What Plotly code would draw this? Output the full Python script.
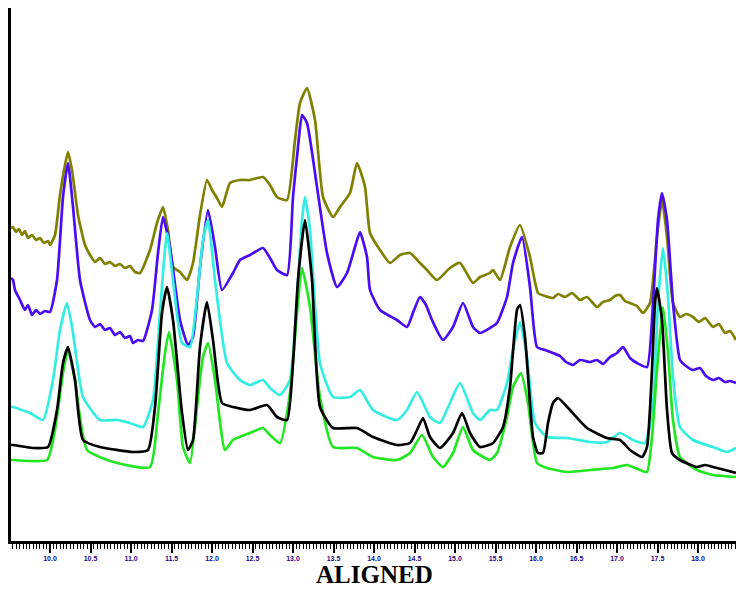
import plotly.graph_objects as go

# Retention position (chart units) and detector signal for each aligned trace
olive_x = [11, 13, 16, 19, 22, 25, 28, 32, 36, 40, 44, 48, 50, 55, 60, 65, 68, 72, 78, 85, 90, 95, 100, 105, 110, 115, 120, 125, 130, 135, 140, 150, 157, 163, 168, 173, 180, 187, 193, 200, 207, 212, 217, 222, 230, 240, 250, 263, 270, 277, 287, 295, 300, 307, 315, 323, 333, 340, 350, 357, 365, 370, 380, 390, 400, 410, 420, 427, 437, 450, 460, 473, 480, 490, 493, 500, 510, 520, 530, 538, 545, 553, 558, 565, 572, 580, 587, 597, 603, 610, 615, 620, 625, 630, 637, 643, 650, 657, 662, 667, 673, 680, 686, 693, 699, 705, 713, 719, 725, 730, 736]
olive_y = [313, 314, 309, 312, 306, 310, 303, 306, 301, 303, 298, 300, 296, 306, 346, 376, 389, 371, 326, 296, 286, 279, 283, 277, 279, 275, 277, 273, 275, 269, 268, 291, 318, 334, 311, 274, 269, 261, 278, 326, 361, 351, 343, 334, 358, 361, 361, 364, 356, 344, 341, 401, 438, 453, 421, 344, 324, 334, 348, 378, 354, 308, 291, 278, 286, 288, 278, 271, 261, 273, 278, 258, 264, 268, 271, 261, 294, 316, 284, 248, 245, 243, 247, 244, 248, 241, 244, 234, 239, 241, 245, 246, 240, 238, 235, 228, 238, 304, 341, 304, 238, 224, 227, 224, 219, 223, 214, 217, 208, 210, 201]

blue_x = [11, 13, 15, 20, 25, 28, 32, 36, 40, 45, 50, 57, 63, 68, 73, 80, 90, 95, 100, 105, 110, 115, 120, 125, 130, 133, 138, 143, 152, 158, 163, 170, 180, 188, 193, 200, 208, 215, 222, 233, 240, 250, 263, 270, 277, 287, 293, 298, 302, 307, 317, 327, 337, 347, 355, 360, 367, 370, 380, 397, 407, 414, 420, 426, 432, 443, 453, 463, 473, 480, 490, 497, 507, 513, 522, 530, 537, 545, 553, 560, 566, 573, 580, 590, 597, 603, 610, 617, 623, 630, 637, 647, 653, 658, 662, 667, 673, 680, 686, 693, 700, 706, 713, 719, 725, 730, 736]
blue_y = [263, 261, 251, 241, 231, 236, 226, 231, 227, 230, 229, 261, 344, 378, 334, 261, 221, 214, 217, 211, 213, 206, 209, 203, 205, 198, 201, 200, 231, 288, 324, 294, 221, 196, 204, 274, 331, 294, 251, 268, 281, 286, 293, 283, 271, 266, 344, 394, 426, 418, 354, 288, 254, 268, 294, 309, 284, 251, 231, 221, 214, 231, 244, 236, 221, 201, 214, 238, 214, 208, 213, 218, 244, 278, 304, 254, 194, 191, 188, 185, 179, 176, 181, 179, 181, 177, 184, 188, 194, 183, 178, 174, 238, 321, 348, 321, 238, 181, 175, 171, 173, 165, 161, 163, 159, 160, 158]

cyan_x = [11, 13, 30, 43, 53, 60, 67, 73, 83, 100, 117, 130, 143, 153, 160, 167, 173, 182, 190, 197, 203, 208, 215, 227, 240, 250, 263, 270, 280, 290, 297, 302, 305, 310, 320, 333, 350, 360, 373, 397, 407, 417, 430, 440, 450, 460, 473, 480, 490, 497, 507, 513, 520, 527, 535, 547, 567, 590, 607, 620, 633, 645, 653, 658, 663, 668, 673, 680, 693, 713, 727, 736]
cyan_y = [134, 134, 128, 121, 161, 211, 238, 208, 144, 121, 121, 118, 114, 141, 228, 308, 261, 198, 194, 244, 301, 321, 261, 178, 161, 156, 161, 153, 146, 161, 244, 321, 344, 311, 178, 144, 144, 151, 131, 121, 131, 149, 124, 118, 138, 158, 128, 121, 131, 131, 158, 191, 219, 184, 118, 104, 103, 99, 99, 108, 101, 98, 138, 238, 293, 244, 164, 114, 101, 94, 89, 93]

green_x = [11, 13, 47, 55, 63, 68, 75, 87, 117, 150, 158, 165, 169, 177, 183, 190, 197, 203, 208, 215, 225, 233, 250, 263, 270, 280, 290, 297, 302, 310, 320, 333, 357, 373, 397, 410, 422, 433, 443, 453, 463, 473, 490, 497, 507, 513, 521, 528, 537, 547, 567, 590, 613, 627, 640, 647, 652, 657, 663, 668, 673, 680, 697, 713, 736]
green_y = [81, 81, 81, 111, 168, 191, 161, 91, 78, 74, 128, 188, 209, 161, 94, 78, 134, 184, 198, 161, 91, 101, 108, 113, 106, 98, 148, 228, 273, 234, 144, 94, 93, 84, 81, 88, 106, 84, 74, 88, 114, 91, 81, 88, 124, 154, 168, 138, 78, 73, 69, 71, 73, 76, 71, 69, 104, 171, 234, 188, 121, 84, 71, 66, 64]

black_x = [11, 13, 33, 48, 57, 63, 68, 75, 83, 100, 133, 148, 155, 162, 167, 173, 182, 188, 193, 200, 207, 213, 222, 233, 250, 267, 277, 287, 293, 298, 305, 312, 320, 333, 357, 373, 397, 410, 417, 423, 430, 440, 453, 462, 470, 480, 493, 503, 510, 517, 520, 525, 533, 538, 543, 548, 553, 558, 570, 587, 607, 620, 630, 642, 647, 652, 655, 657, 662, 667, 672, 680, 697, 705, 713, 725, 736]
black_y = [96, 96, 93, 94, 131, 178, 194, 161, 101, 94, 89, 91, 134, 228, 254, 221, 128, 91, 101, 194, 239, 201, 138, 134, 131, 136, 124, 121, 178, 261, 321, 261, 134, 113, 113, 104, 96, 98, 111, 123, 104, 93, 108, 128, 108, 94, 98, 114, 154, 231, 236, 204, 104, 88, 88, 118, 138, 143, 131, 113, 103, 101, 91, 84, 94, 171, 238, 253, 221, 131, 88, 81, 74, 76, 74, 71, 68]

series = [
    ("olive", olive_x, olive_y, "#808000"),
    ("blue", blue_x, blue_y, "#4a0cf2"),
    ("cyan", cyan_x, cyan_y, "#33eee0"),
    ("green", green_x, green_y, "#22e622"),
    ("black", black_x, black_y, "#000000"),
]

tick_vals = [50, 90.5, 131, 171.5, 212, 252.5, 293, 333.5, 374, 414.5, 455, 495.5, 536, 576.5, 617, 657.5, 698]
tick_text = ["10.0", "10.5", "11.0", "11.5", "12.0", "12.5", "13.0", "13.5", "14.0",
             "14.5", "15.0", "15.5", "16.0", "16.5", "17.0", "17.5", "18.0"]
x_title = "ALIGNED"

fig = go.Figure()
for name, xs, ys, col in series:
    fig.add_trace(go.Scatter(x=xs, y=ys, mode="lines", name=name,
                             line=dict(color=col, width=2.7, shape="spline", smoothing=0.5),
                             showlegend=False))

fig.update_layout(
    width=736, height=589,
    margin=dict(l=11, r=0, t=8, b=48, autoexpand=False),
    paper_bgcolor="white", plot_bgcolor="white",
    xaxis=dict(
        range=[11, 736], showgrid=False, zeroline=False, automargin=False,
        showline=True, linecolor="black", linewidth=3,
        tickmode="array", tickvals=tick_vals, ticktext=tick_text,
        ticks="outside", ticklen=9, tickwidth=1.5, tickcolor="black",
        minor=dict(ticks="outside", tick0=50, dtick=40.5 / 12, ticklen=5,
                   tickwidth=1, tickcolor="black", showgrid=False),
        tickfont=dict(family="Arial", size=7, color="#1a0a8a", weight="bold"),
    ),
    yaxis=dict(
        range=[0, 533], showgrid=False, zeroline=False, automargin=False,
        showline=True, linecolor="black", linewidth=2.5,
        showticklabels=False, ticks="",
    ),
    annotations=[dict(
        text=x_title, xref="paper", yref="paper", x=0.501, y=-0.062,
        xanchor="center", yanchor="middle", showarrow=False,
        font=dict(family="Liberation Serif", size=25, color="black", weight="bold"),
    )],
)

fig.write_html(
    "out.html",
    config={"responsive": False, "displayModeBar": False},
    post_script="document.body.style.margin='0';document.body.style.overflow='hidden';",
)
